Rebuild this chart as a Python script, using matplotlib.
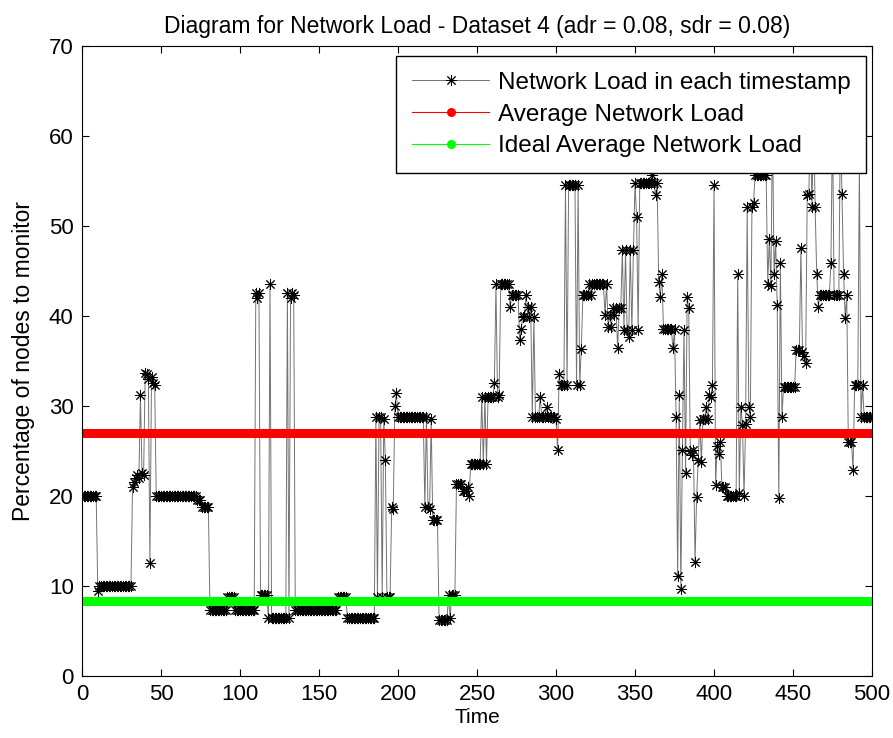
import numpy as np
import matplotlib
matplotlib.use('Agg')
import matplotlib.pyplot as plt

matplotlib.rcParams['font.family'] = 'Liberation Sans'

# network load, stored as runs: (level, number of timestamps)
load_levels = [20, 9.5, 10, 21, 21.5, 22, 22.3, 22, 31.2, 22.5, 22.3, 33.7, 33.5, 33, 12.6, 33.2, 32.5, 32.3,
               20, 19.5, 18.8, 7.3, 8.8, 7.3, 42.5, 42, 42.5, 9, 6.4, 43.6, 6.4, 42.5, 6.4, 42, 42.5, 42.3,
               7.3, 8.8, 6.4, 28.8, 8.8, 28.8, 8.8, 28.6, 24, 8.8, 18.8, 18.5, 30, 31.4,
               28.8, 18.8, 28.8, 18.8, 18.5, 28.5, 17.3, 6.2, 9, 6.4, 9, 21.3, 20.5, 21, 20,
               23.6, 31, 23.6, 31, 23.6, 31, 32.5, 43.5, 31, 31.2, 43.5, 41, 42.3, 37.3, 38.6, 39.9, 40,
               42.3, 41, 39.9, 41, 28.8, 39.9, 28.8, 31, 28.8, 29.9, 28.8, 28.5, 25.1, 33.6, 32.3,
               54.6, 32.3, 54.6, 32.3, 54.6, 32.3, 36.3, 42.3, 43.6, 42.3, 43.6, 40.1, 43.6, 38.8, 40.1,
               38.8, 40.9, 40.1, 40.9, 36.4, 40.9, 47.3, 38.4, 47.3, 38.4, 37.7, 47.3, 38.4, 47.3, 54.8,
               51, 38.4, 54.8, 55.7, 54.8, 53.4, 54.8, 43.8, 42.1, 44.7, 38.6, 36.4, 38.6, 28.8, 11.1,
               31.2, 9.7, 25.1, 38.4, 22.5, 42.1, 40.9, 25, 24.5, 25.1, 12.7, 19.9, 24, 28.4, 23.8, 28.6,
               29.9, 28.6, 31.2, 31, 32.3, 54.5, 21.2, 25.6, 24.7, 26, 21, 20, 44.7, 20.3, 29.9, 27.9,
               20, 28, 52.1, 29.9, 28.8, 52.1, 52.5, 55.7, 43.6, 48.6, 43.3, 62, 44.7, 48.3, 41.2, 19.8,
               45.9, 28.8, 32.1, 36.2, 47.5, 36, 35.5, 34.8, 53.4, 53.6, 62, 52.1, 62, 52.1, 44.7, 41,
               42.3, 45.9, 62, 42.3, 62, 53.6, 44.7, 39.8, 42.3, 26, 22.9, 32.3, 57, 28.8, 32.3, 28.8]
load_counts = [10, 1, 21, 1, 1, 1, 1, 1, 1, 1, 1, 1, 1, 1, 1, 1, 1, 1,
               26, 3, 5, 11, 5, 13, 1, 1, 1, 5, 1, 1, 10, 1, 1, 1, 1, 1,
               27, 6, 18, 1, 1, 2, 1, 1, 1, 3, 1, 1, 1, 1,
               17, 1, 1, 1, 1, 1, 4, 6, 1, 1, 3, 4, 3, 1, 1,
               7, 1, 1, 1, 1, 4, 1, 1, 1, 1, 6, 1, 5, 1, 1, 1, 1,
               1, 1, 1, 1, 1, 1, 3, 1, 3, 1, 5, 1, 1, 1, 3,
               1, 1, 5, 1, 1, 1, 1, 4, 1, 1, 8, 1, 1, 1, 1,
               1, 1, 1, 1, 1, 2, 1, 1, 1, 1, 1, 1, 1, 1, 1,
               1, 1, 8, 1, 1, 1, 1, 1, 1, 1, 6, 1, 1, 1, 1,
               1, 1, 1, 1, 1, 1, 1, 1, 1, 1, 1, 1, 1, 1, 1, 2,
               1, 1, 1, 1, 1, 1, 1, 1, 1, 1, 3, 7, 1, 1, 1, 1,
               1, 1, 1, 1, 1, 1, 1, 8, 1, 1, 1, 1, 1, 1, 1, 1,
               1, 1, 8, 3, 1, 1, 1, 1, 1, 1, 1, 1, 1, 1, 1, 1,
               7, 1, 1, 4, 1, 1, 1, 1, 1, 3, 1, 3, 1, 1, 1, 5]

avg_load = 27.0
ideal_load = 8.3

load = np.repeat(load_levels, load_counts)
time = np.arange(len(load))

fig = plt.figure(figsize=(8.93, 7.38), dpi=100)
ax = fig.add_axes([0.0918, 0.084, 0.8847, 0.8537])

# matlab style asterisk marker
ax.plot(time, load, '-', color='0.45', linewidth=0.7, marker=(8, 2, 0), markersize=8,
        markeredgecolor='black', markeredgewidth=0.7,
        label='Network Load in each timestamp')
ax.plot(time, np.full(len(time), avg_load), '-', color='#ff0000', linewidth=0.8, marker='o',
        markersize=6.5, markeredgewidth=0, label='Average Network Load')
ax.plot(time, np.full(len(time), ideal_load), '-', color='#00ff00', linewidth=0.8, marker='o',
        markersize=6.5, markeredgewidth=0, label='Ideal Average Network Load')

ax.set_xlim(0, 500)
ax.set_ylim(0, 70)
ax.set_xticks(np.arange(0, 501, 50))
ax.set_yticks(np.arange(0, 71, 10))
ax.tick_params(direction='in', top=True, right=True, length=5, labelsize=16, pad=6)
ax.set_xlabel('Time', fontsize=15, labelpad=2)
ax.set_ylabel('Percentage of nodes to monitor', fontsize=16.5, labelpad=10)
ax.set_title('Diagram for Network Load - Dataset 4 (adr = 0.08, sdr = 0.08)', fontsize=16.5, pad=9)

leg = ax.legend(loc='upper right', bbox_to_anchor=(0.993, 0.984), fontsize=17.5, handlelength=3.2,
                handletextpad=0.35, fancybox=False, framealpha=1, edgecolor='black',
                borderpad=0.65, labelspacing=0.4, borderaxespad=0)
leg.get_frame().set_linewidth(1.0)
leg.set_zorder(10)

fig.savefig('out.png', dpi=100)
